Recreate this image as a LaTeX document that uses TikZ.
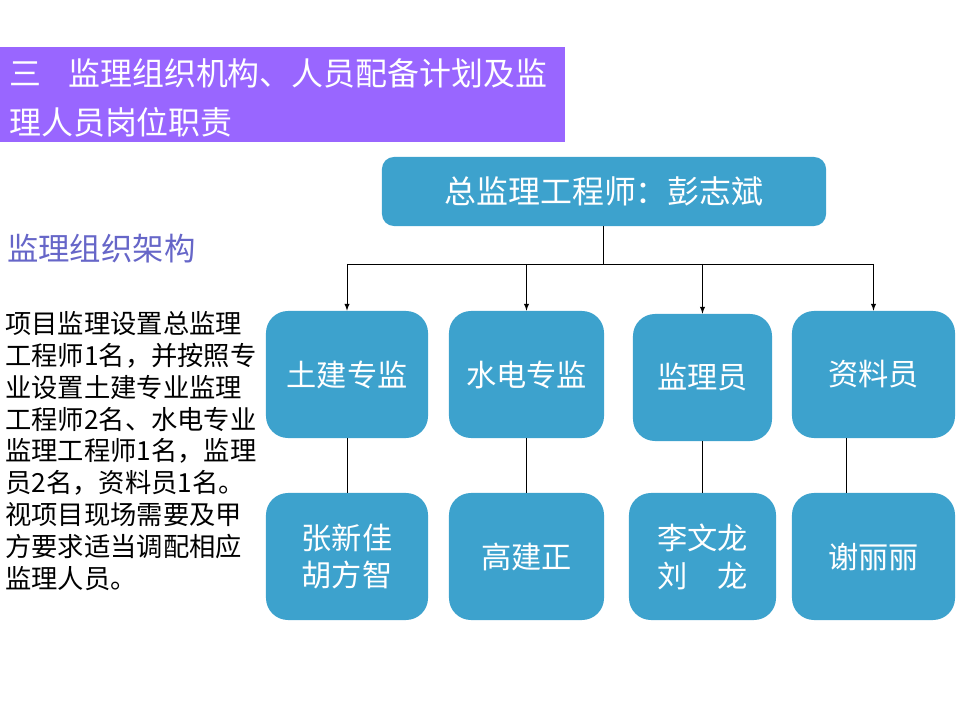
\documentclass[tikz,border=0pt]{standalone}
\usepackage{fontspec}
\setmainfont{Noto Sans CJK SC}
\usepackage{tikz}
\usetikzlibrary{arrows,calc}
\definecolor{boxblue}{HTML}{3DA2CD}
\definecolor{barpurple}{HTML}{9966FF}
\definecolor{headblue}{HTML}{6666C8}

\begin{document}
\begin{tikzpicture}[x=0.025cm,y=-0.025cm]
        \tikzstyle{every node}+=[inner sep=0pt]
        \tikzstyle{mbox}=[fill=boxblue, rounded corners=0.55cm, text=white,
          align=center, minimum height=3.175cm,
          font=\fontsize{21.5}{27}\selectfont]
        \useasboundingbox (0,0) rectangle (960,720);
        % title bar
        \fill [barpurple] (0,47) rectangle (565,142);
        \node [anchor=west, text=white, font=\fontsize{22.7}{34.7}\selectfont] (title1) at (9,73) {三\hspace{0.85em}监理组织机构、人员配备计划及监};
        \node [anchor=west, text=white, font=\fontsize{22.7}{34.7}\selectfont] (title2) at (9,122) {理人员岗位职责};
        \node [anchor=west, text=headblue, font=\fontsize{22.3}{26}\selectfont] (head) at (7,249) {监理组织架构};
        \node [anchor=west, align=left, font=\fontsize{18.7}{22.7}\selectfont] (desc) at (5,451)
          {项目监理设置总监理\\工程师1名，并按照专\\业设置土建专业监理\\工程师2名、水电专业\\监理工程师1名，监理\\员2名，资料员1名。\\视项目现场需要及甲\\方要求适当调配相应\\监理人员。};
        % chart
        \node [mbox, rounded corners=0.3cm, minimum width=11.1cm, minimum height=1.725cm,
          font=\fontsize{22.7}{26}\selectfont] (chief) at (604,191.5) {总监理工程师：彭志斌};
        \node [mbox, minimum width=4.05cm] (civil) at (347,374.5) {土建专监};
        \node [mbox, minimum width=3.875cm] (mep) at (526.5,374.5) {水电专监};
        \node [mbox, minimum width=3.475cm] (insp) at (702.5,377.5) {监理员};
        \node [mbox, minimum width=4.075cm] (docs) at (873.5,374.5) {资料员};
        \node [mbox, minimum width=4.05cm] (civilp) at (347,556.5) {张新佳\\胡方智};
        \node [mbox, minimum width=3.875cm] (mepp) at (526.5,556.5) {高建正};
        \node [mbox, minimum width=3.675cm] (inspp) at (702.5,556.5) {李文龙\\刘\quad 龙};
        \node [mbox, minimum width=4.075cm] (docsp) at (873.5,556.5) {谢丽丽};
        \coordinate (bus) at (603,264);
        \draw [black, line width=0.7pt] (chief.south -| bus) -- (bus);
        \draw [black, line width=0.7pt] (bus -| civil.north) -- (bus -| docs.north);
        \draw [black, line width=0.7pt, -latex] (bus -| civil.north) -- (civil.north);
        \draw [black, line width=0.7pt, -latex] (bus -| mep.north) -- (mep.north);
        \draw [black, line width=0.7pt, -latex] (bus -| insp.north) -- (insp.north);
        \draw [black, line width=0.7pt, -latex] (bus -| docs.north) -- (docs.north);
        \draw [black, line width=0.6pt] (civil) -- (civilp);
        \draw [black, line width=0.6pt] (mep) -- (mepp);
        \draw [black, line width=0.6pt] (insp) -- (inspp);
        \draw [black, line width=0.6pt] ($(docs.south)+(-27,0)$) -- ($(docsp.north)+(-27,0)$);
\end{tikzpicture}
\end{document}
